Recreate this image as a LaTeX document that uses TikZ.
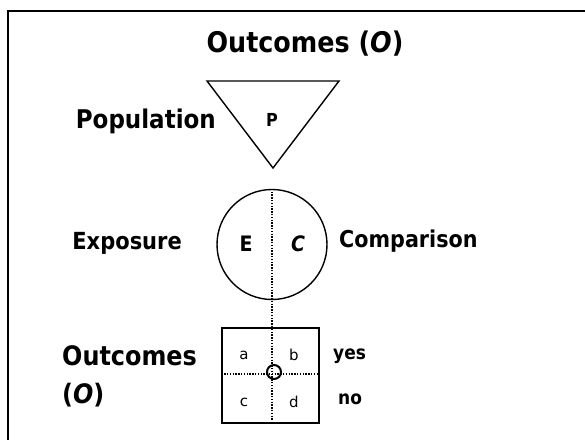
\documentclass[tikz,border=0pt]{standalone}
\usepackage{fontspec}
\setmainfont{DejaVu Sans}
\newcommand{\tallt}[1]{\scalebox{1}[1.12]{#1}}
\begin{document}
\begin{tikzpicture}[x=1pt,y=-1pt,
  shape line/.style={line width=1.4pt},
  dotline/.style={line width=1.4pt, dash pattern=on 1.4pt off 1.4pt},
  lab/.style={inner sep=0pt, font=\bfseries\fontsize{21}{23}\selectfont},
  small/.style={inner sep=0pt, font=\fontsize{15}{17}\selectfont}]
\useasboundingbox (0,0) rectangle (585,440);
% frame
\draw[line width=1.6pt] (585,11) -- (8,11) -- (8,440);
% title
\node[inner sep=0pt, font=\bfseries\fontsize{25.4}{28}\selectfont] (title) at (305,44) {\tallt{Outcomes (\textit{O})}};
% population triangle
\coordinate (t1) at (207,81);
\coordinate (t2) at (339,81);
\coordinate (t3) at (273,168);
\draw[shape line, line join=miter] (t1) -- (t2) -- (t3) -- cycle;
\node[inner sep=0pt, font=\bfseries\fontsize{16}{18}\selectfont] (P) at (272,120) {\tallt{P}};
\node[lab, font=\bfseries\fontsize{23}{25}\selectfont, anchor=east] (pop) at (216,121) {\tallt{Population}};
% circle
\node[draw, shape line, circle, minimum size=110pt, inner sep=0pt] (circ) at (272,244.5) {};
\node[inner sep=0pt, font=\bfseries\fontsize{19}{21}\selectfont] (E) at (246,244) {\tallt{E}};
\node[inner sep=0pt, font=\bfseries\fontsize{19}{21}\selectfont] (C) at (298,244) {\tallt{\textit{C}}};
\node[lab, anchor=east] (exp) at (182,243) {\tallt{Exposure}};
\node[lab, font=\bfseries\fontsize{20.7}{23}\selectfont, anchor=west] (comp) at (339,241) {\tallt{Comparison}};
% box
\node[draw, shape line, minimum width=97pt, minimum height=95pt, inner sep=0pt] (box) at (270.5,375.5) {};
\coordinate (vb) at (272,421);
\draw[dotline] (circ.north) -- (vb);
\draw[dotline] (box.west |- 0,374) -- (box.east |- 0,374);
\node[draw, circle, line width=2pt, minimum size=14pt, inner sep=0pt] (o) at (274,372) {};
\node[small] (a) at (244,355) {a};
\node[small] (b) at (294,355) {b};
\node[small] (c) at (244,402) {c};
\node[small] (d) at (294,402) {d};
\node[lab, font=\bfseries\fontsize{17}{19}\selectfont, anchor=west] (yes) at (333,356) {\tallt{yes}};
\node[lab, font=\bfseries\fontsize{17}{19}\selectfont, anchor=west] (no) at (338,399) {\tallt{no}};
\node[lab, font=\bfseries\fontsize{23.9}{26}\selectfont, anchor=west] (out) at (62,356) {\tallt{Outcomes}};
\node[lab, font=\bfseries\fontsize{23.9}{26}\selectfont, anchor=west] (outo) at (62,395) {\tallt{(\textit{O})}};
\end{tikzpicture}
\end{document}
